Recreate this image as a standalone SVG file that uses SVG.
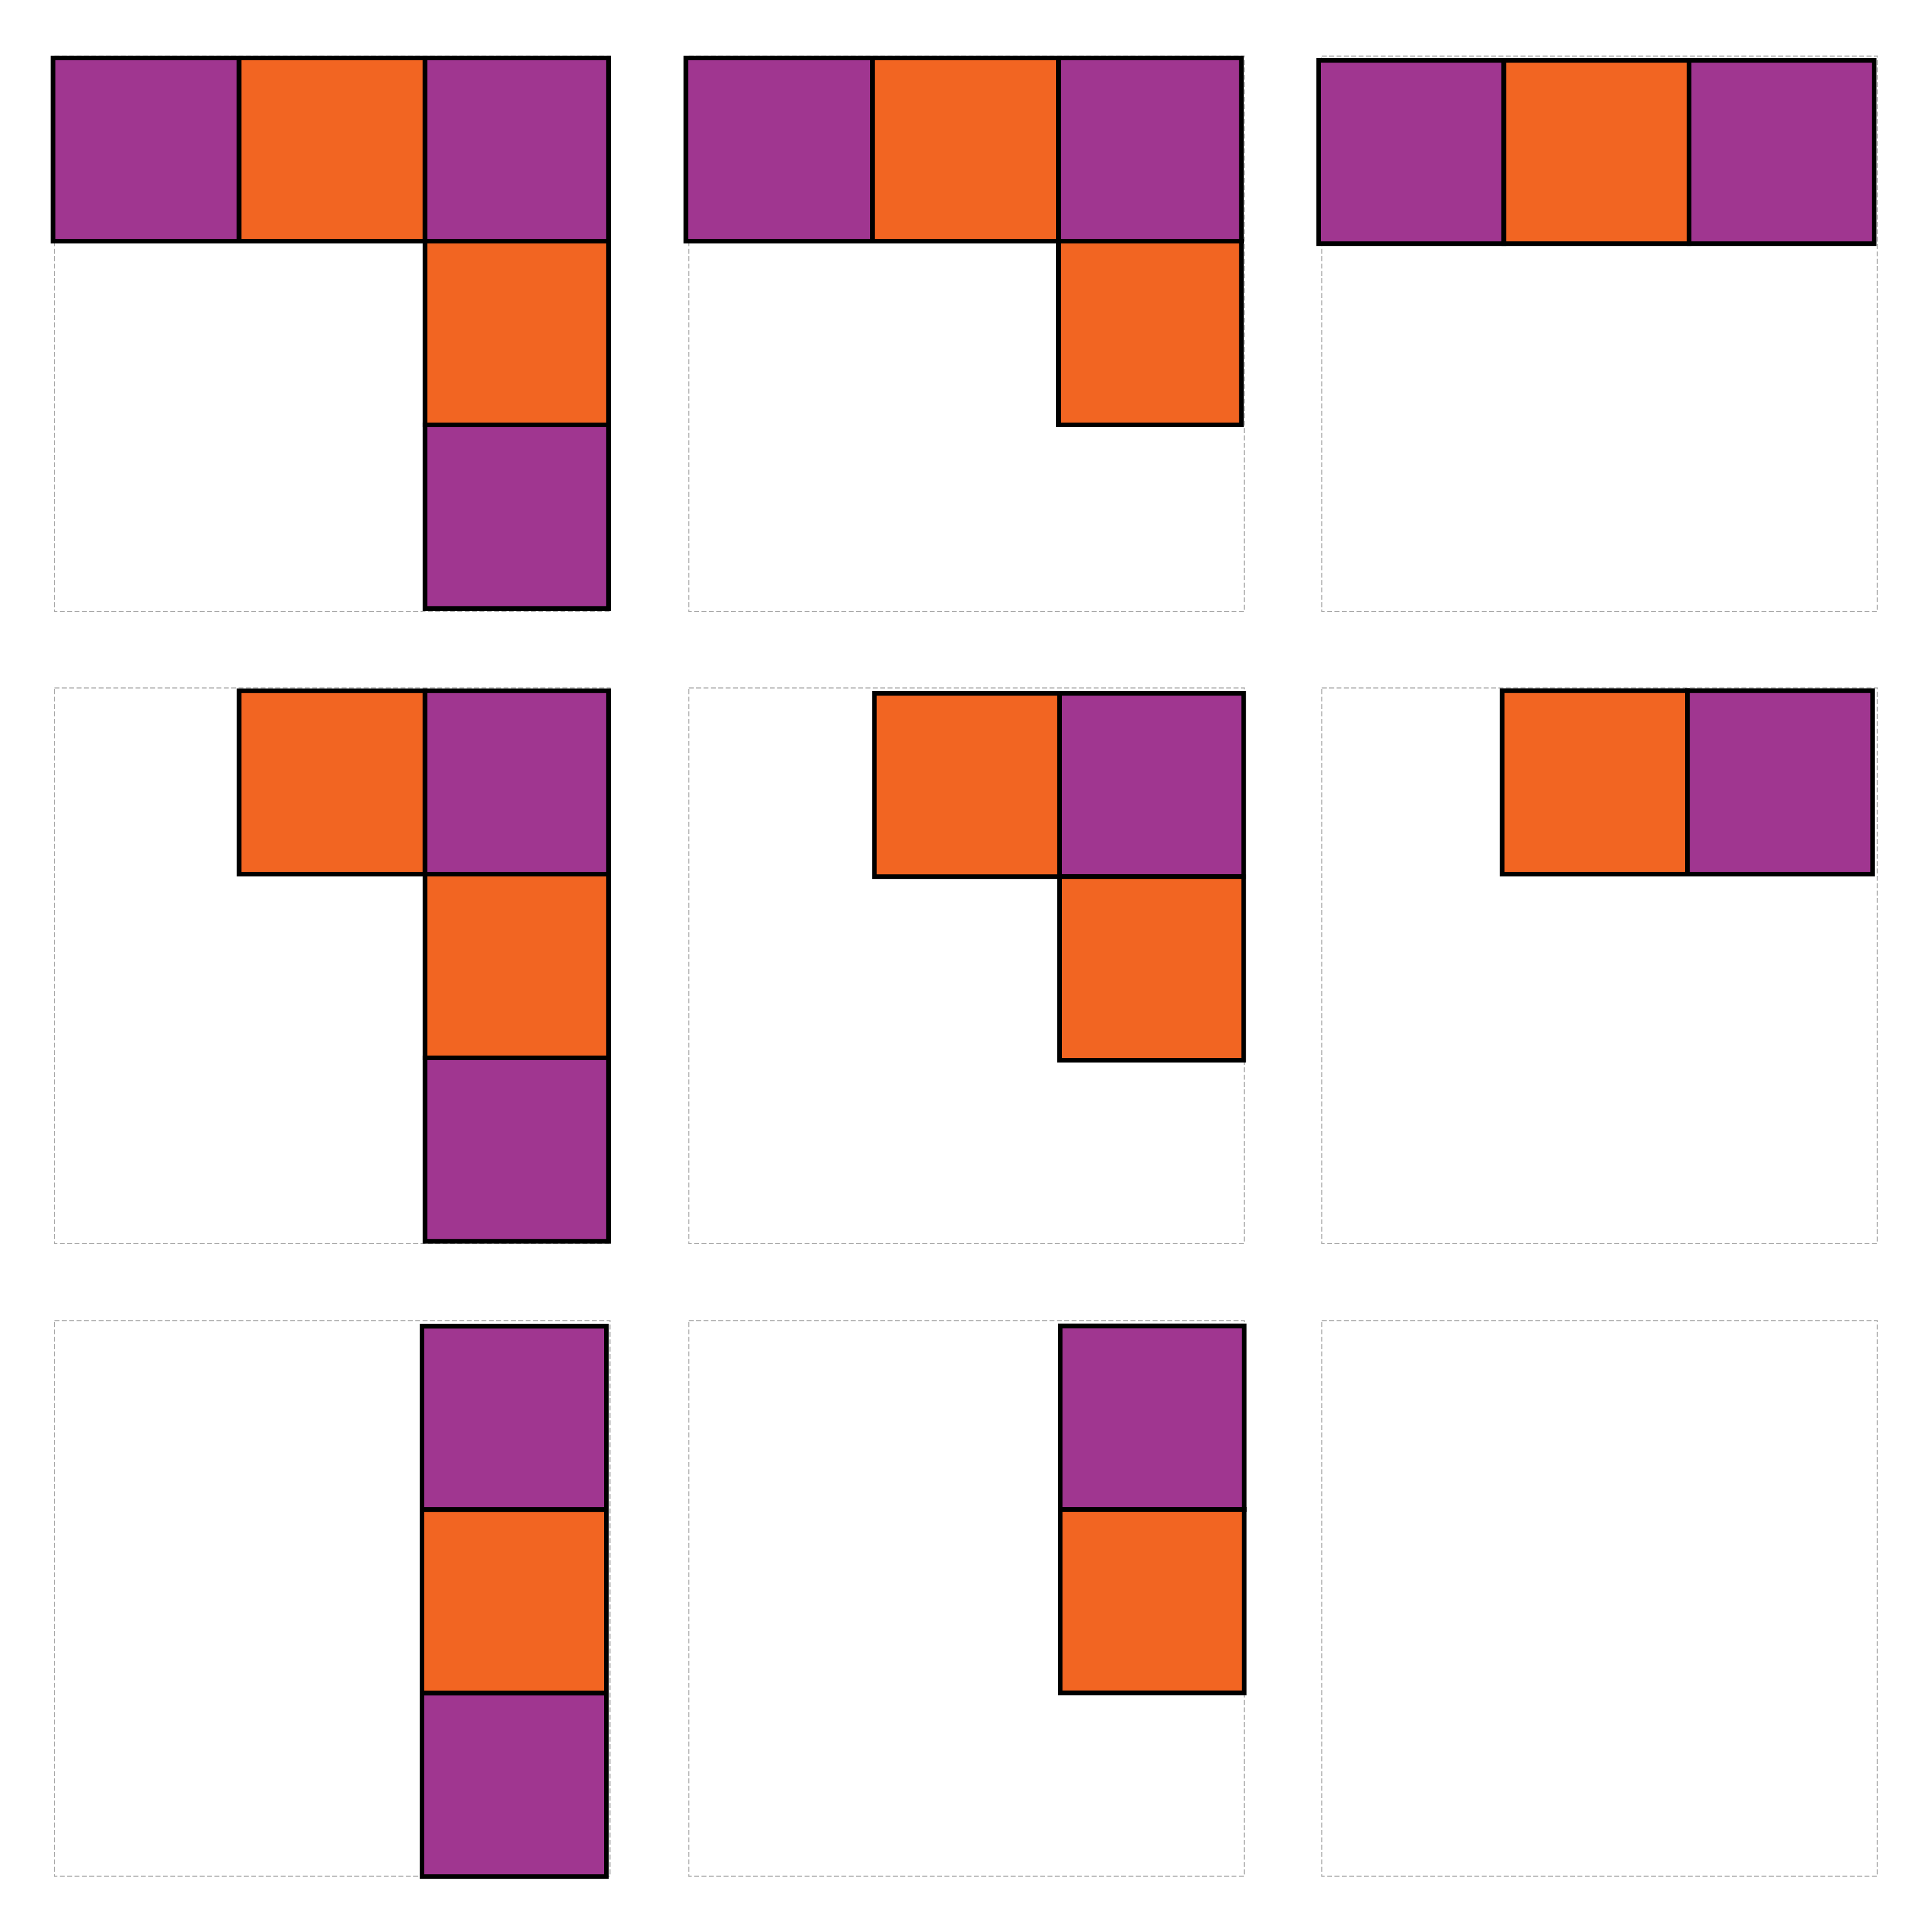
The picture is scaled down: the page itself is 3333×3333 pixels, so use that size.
<svg xmlns="http://www.w3.org/2000/svg" width="3333" height="3333" viewBox="0 0 3333 3333">
<style>
.board{fill:none;stroke:#b0b0b0;stroke-width:2;stroke-dasharray:8.5 4.2}
.p{fill:#a03690;stroke:#000;stroke-width:8}
.o{fill:#f26522;stroke:#000;stroke-width:8}
</style>
<rect width="3333" height="3333" fill="#fff"/>
<g id="boards">
<rect class="board" x="94" y="96.7" width="958.4" height="958.4"/>
<rect class="board" x="1188.3" y="96.7" width="958.4" height="958.4"/>
<rect class="board" x="2280.3" y="96.7" width="958.4" height="958.4"/>
<rect class="board" x="94" y="1186.7" width="958.4" height="958.4"/>
<rect class="board" x="1188.3" y="1186.7" width="958.4" height="958.4"/>
<rect class="board" x="2280.3" y="1186.7" width="958.4" height="958.4"/>
<rect class="board" x="94" y="2278.3" width="958.4" height="958.4"/>
<rect class="board" x="1188.3" y="2278.3" width="958.4" height="958.4"/>
<rect class="board" x="2280.3" y="2278.3" width="958.4" height="958.4"/>
</g>
<g id="panel1">
<rect class="p" x="91.5" y="100" width="321" height="316"/>
<rect class="o" x="412.5" y="100" width="320.8" height="316"/>
<rect class="p" x="733.3" y="100" width="316.7" height="316"/>
<rect class="o" x="733.3" y="416" width="316.7" height="317"/>
<rect class="p" x="733.3" y="733" width="316.7" height="317"/>
</g>
<g id="panel2">
<rect class="p" x="1183.3" y="100" width="321.7" height="316"/>
<rect class="o" x="1505" y="100" width="321" height="316"/>
<rect class="p" x="1826" y="100" width="315.7" height="316"/>
<rect class="o" x="1826" y="416" width="315.7" height="317"/>
</g>
<g id="panel3">
<rect class="p" x="2275" y="104" width="319.4" height="316.3"/>
<rect class="o" x="2594.4" y="104" width="319.5" height="316.3"/>
<rect class="p" x="2913.9" y="104" width="319.4" height="316.3"/>
</g>
<g id="panel4">
<rect class="o" x="412.5" y="1191.7" width="320.8" height="316.3"/>
<rect class="p" x="733.3" y="1191.7" width="316.7" height="316.3"/>
<rect class="o" x="733.3" y="1508" width="316.7" height="317"/>
<rect class="p" x="733.3" y="1825" width="316.7" height="316.5"/>
</g>
<g id="panel5">
<rect class="o" x="1508.5" y="1196" width="319.5" height="316.3"/>
<rect class="p" x="1828" y="1196" width="317.5" height="316.3"/>
<rect class="o" x="1828" y="1512.3" width="317.5" height="316.7"/>
</g>
<g id="panel6">
<rect class="o" x="2591.5" y="1191.5" width="319.5" height="316.5"/>
<rect class="p" x="2911" y="1191.5" width="319.5" height="316.5"/>
</g>
<g id="panel7">
<rect class="p" x="728" y="2287.8" width="318" height="316.5"/>
<rect class="o" x="728" y="2604.3" width="318" height="316.5"/>
<rect class="p" x="728" y="2920.8" width="318" height="316.5"/>
</g>
<g id="panel8">
<rect class="p" x="1829" y="2287.5" width="317.5" height="316.5"/>
<rect class="o" x="1829" y="2604" width="317.5" height="316.5"/>
</g>
<g id="connectors"/>
</svg>
